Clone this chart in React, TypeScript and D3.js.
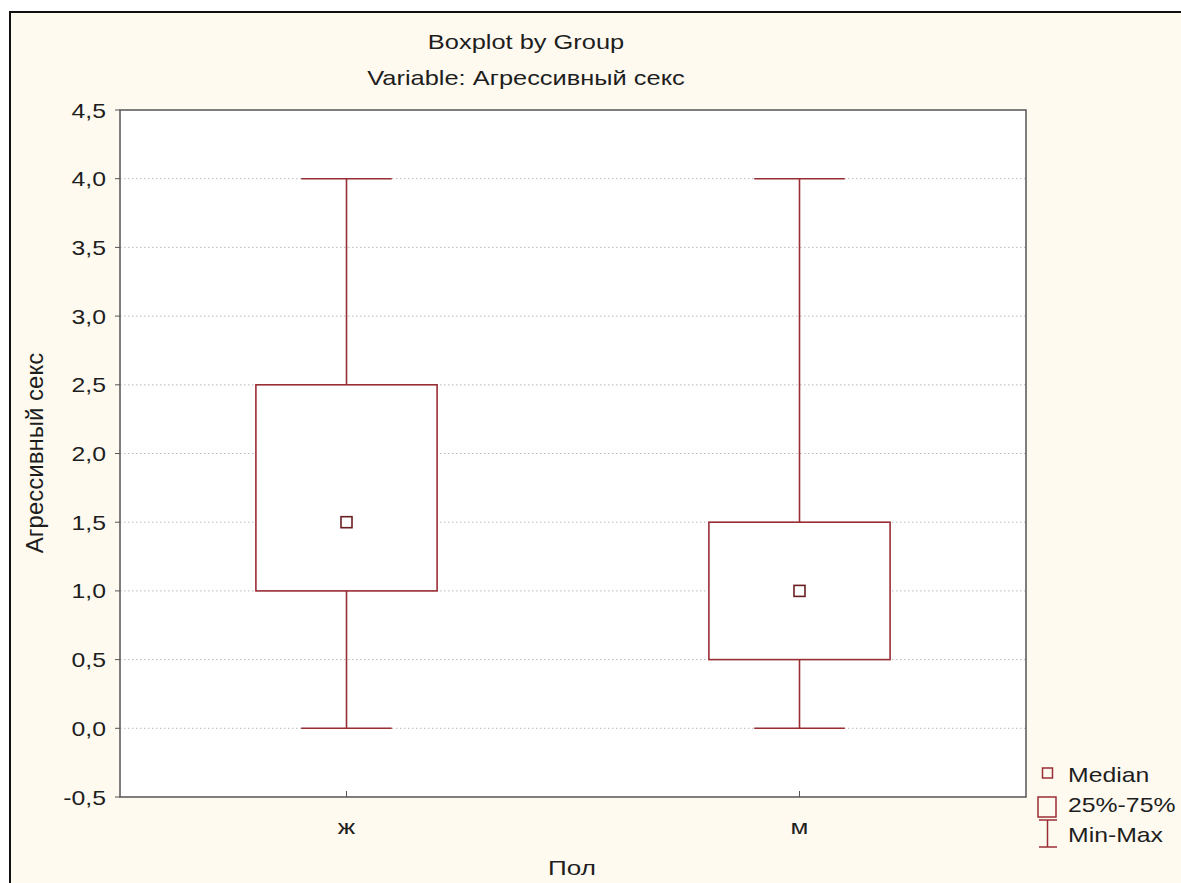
import React from "react";
import * as d3 from "d3";

const categories = ["ж", "м"];
const minVals = [0, 0];
const q1Vals = [1.0, 0.5];
const medianVals = [1.5, 1.0];
const q3Vals = [2.5, 1.5];
const maxVals = [4.0, 4.0];
const yTicks = [-0.5, 0, 0.5, 1, 1.5, 2, 2.5, 3, 3.5, 4, 4.5];
const legendLabels = ["Median", "25%-75%", "Min-Max"];

const W = 1181;
const H = 883;
const left = 120;
const right = 1026;
const top = 110;
const bottom = 797;
const red = "#9A2E35";
const font = "'Liberation Sans', Arial, sans-serif";
const SX = 1.24;

function T(props: { x: number; y: number; size: number; anchor?: string; children: React.ReactNode }) {
  return (
    <text
      transform={`translate(${props.x},${props.y}) scale(${SX},1)`}
      textAnchor={props.anchor || "start"}
      fontFamily={font}
      fontSize={props.size}
      fill="#1e1e1e"
    >
      {props.children}
    </text>
  );
}

export default function App() {
  const y = d3.scaleLinear().domain([-0.5, 4.5]).range([bottom, top]);
  const x = d3.scalePoint<string>().domain(categories).range([left, right]).padding(0.5);
  const pw = right - left;
  const boxW = pw * 0.2;
  const capW = pw * 0.1;
  const fmt = (v: number) => d3.format(".1f")(v).replace(".", ",").replace("−", "-");
  return (
    <svg width={W} height={H} style={{ position: "absolute", left: 0, top: 0, background: "#fff" }}>
      <rect x={10} y={12} width={W} height={H} fill="#FEFAF0" stroke="#111" strokeWidth={2} />
      <rect x={left} y={top} width={pw} height={bottom - top} fill="#fff" />
      {yTicks.filter((t) => t > -0.5 && t < 4.5).map((t) => (
        <line key={"g" + t} x1={left} x2={right} y1={y(t)} y2={y(t)} stroke="#bbb" strokeWidth={1} strokeDasharray="1.5,2.5" />
      ))}
      <rect x={left} y={top} width={pw} height={bottom - top} fill="none" stroke="#555" strokeWidth={1.5} />
      {yTicks.map((t) => (
        <g key={"t" + t}>
          <line x1={left - 5} x2={left} y1={y(t)} y2={y(t)} stroke="#555" />
          <T x={106} y={y(t) + 7.5} size={20} anchor="end">{fmt(t)}</T>
        </g>
      ))}
      {categories.map((c) => (
        <g key={"x" + c}>
          <line x1={x(c)} x2={x(c)} y1={bottom} y2={bottom - 6} stroke="#555" />
          <T x={x(c) as number} y={834} size={21} anchor="middle">{c}</T>
        </g>
      ))}
      {categories.map((c, i) => {
        const cx = x(c) as number;
        return (
          <g key={"b" + c} stroke={red} strokeWidth={1.6} fill="none">
            <line x1={cx} x2={cx} y1={y(maxVals[i])} y2={y(q3Vals[i])} />
            <line x1={cx} x2={cx} y1={y(q1Vals[i])} y2={y(minVals[i])} />
            <line x1={cx - capW / 2} x2={cx + capW / 2} y1={y(maxVals[i])} y2={y(maxVals[i])} />
            <line x1={cx - capW / 2} x2={cx + capW / 2} y1={y(minVals[i])} y2={y(minVals[i])} />
            <rect x={cx - boxW / 2} y={y(q3Vals[i])} width={boxW} height={y(q1Vals[i]) - y(q3Vals[i])} fill="#fff" />
            <rect x={cx - 5.5} y={y(medianVals[i]) - 5.5} width={11} height={11} fill="#fff" stroke="#6B1E22" strokeWidth={1.6} />
          </g>
        );
      })}
      <T x={526} y={49} size={20.5} anchor="middle">Boxplot by Group</T>
      <T x={526} y={85} size={20.5} anchor="middle">Variable: Агрессивный секс</T>
      <text
        transform={`translate(43,453) rotate(-90)`}
        textAnchor="middle"
        fontFamily={font}
        fontSize={24}
        fill="#1e1e1e"
      >
        Агрессивный секс
      </text>
      <T x={572} y={875} size={21} anchor="middle">Пол</T>
      <g>
        <rect x={1042.5} y={768} width={10} height={10} fill="none" stroke={red} strokeWidth={1.5} />
        <rect x={1038} y={797} width={18} height={20} fill="none" stroke={red} strokeWidth={1.5} />
        <line x1={1047.5} x2={1047.5} y1={820} y2={847} stroke={red} strokeWidth={1.5} />
        <line x1={1039} x2={1057} y1={820} y2={820} stroke={red} strokeWidth={1.5} />
        <line x1={1039} x2={1057} y1={847} y2={847} stroke={red} strokeWidth={1.5} />
        {legendLabels.map((l, i) => (
          <T key={l} x={1068} y={782 + i * 30} size={20}>{l}</T>
        ))}
      </g>
    </svg>
  );
}
